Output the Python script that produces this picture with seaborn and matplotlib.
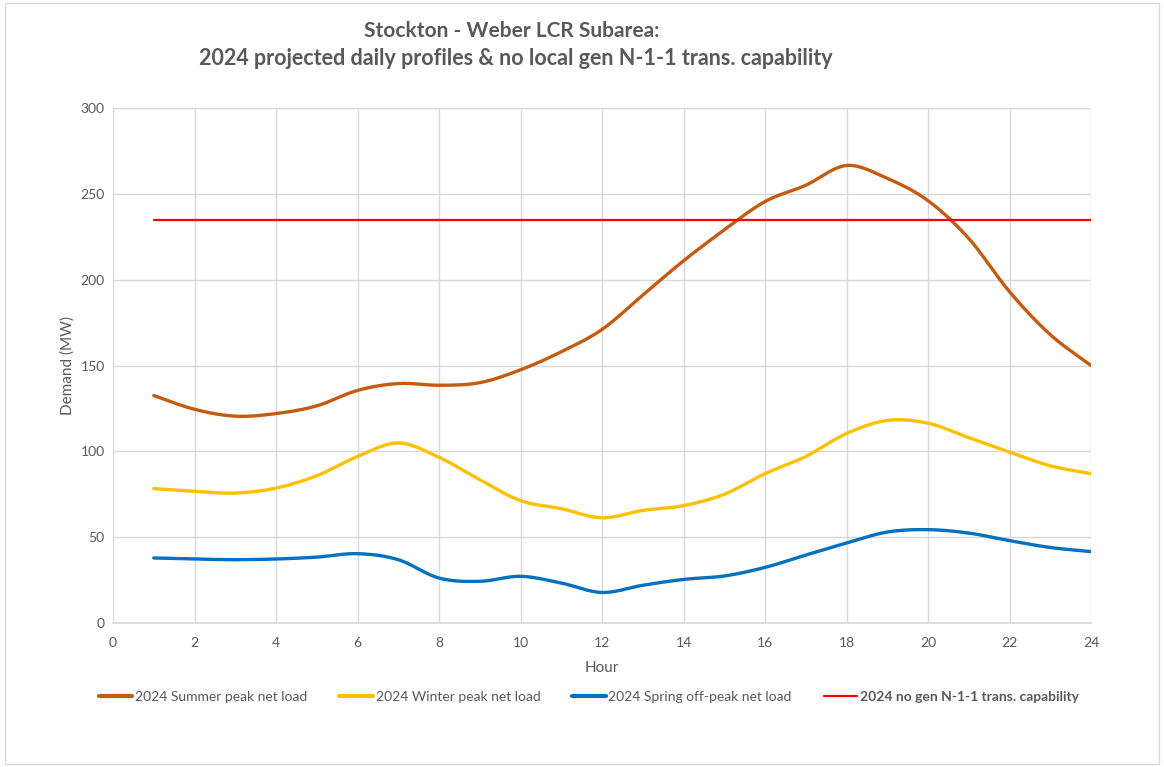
import numpy as np
import pandas as pd
import matplotlib
matplotlib.use("Agg")
import matplotlib.pyplot as plt
import seaborn as sns
from matplotlib.patches import Rectangle

# Data (MW by hour)
hours = list(range(1, 25))
summer = [132.5, 124.5, 120.5, 122, 126.5, 135.5, 139.5, 138.5, 140, 147.5, 158, 171,
          191, 211, 229, 245.5, 255, 266.5, 259, 246, 224, 193, 168, 150]
winter = [78.3, 76.7, 75.7, 78.6, 85.8, 97, 104.9, 96.5, 83.5, 71.3, 66.6, 61.3,
          65.6, 68.4, 75, 87, 97, 110.4, 118, 116.4, 108, 99.6, 91.6, 87]
spring = [37.9, 37.3, 36.9, 37.3, 38.4, 40.4, 36.9, 26.2, 24.3, 27.2, 23.3, 17.8,
          22, 25.4, 27.4, 32.4, 39.6, 46.6, 53, 54.4, 52.4, 48, 44, 41.6]
capability_hours = [1, 24]
capability = [235, 235]

series_names = ["2024 Summer peak net load", "2024 Winter peak net load",
                "2024 Spring off-peak net load", "2024 no gen N-1-1 trans. capability"]
colors = ["#C55A11", "#FFC000", "#0070C0", "#FF0000"]
gray = "#595959"


def smooth(x, y, n=16):
    # Catmull-Rom spline through the points, like Excel's smoothed line
    x = np.asarray(x, float)
    y = np.asarray(y, float)
    px = np.concatenate([[2 * x[0] - x[1]], x, [2 * x[-1] - x[-2]]])
    py = np.concatenate([[2 * y[0] - y[1]], y, [2 * y[-1] - y[-2]]])
    xs, ys = [], []
    t = np.linspace(0, 1, n, endpoint=False)
    for i in range(1, len(px) - 2):
        for p, out in ((px, xs), (py, ys)):
            p0, p1, p2, p3 = p[i - 1], p[i], p[i + 1], p[i + 2]
            out.extend(0.5 * ((2 * p1) + (-p0 + p2) * t
                              + (2 * p0 - 5 * p1 + 4 * p2 - p3) * t ** 2
                              + (-p0 + 3 * p1 - 3 * p2 + p3) * t ** 3))
    xs.append(x[-1])
    ys.append(y[-1])
    return np.array(xs), np.array(ys)


sns.set_theme(style="whitegrid")
plt.rcParams["font.family"] = ["Lato", "DejaVu Sans"]

fig = plt.figure(figsize=(11.64, 7.67), dpi=100)
ax = fig.add_axes([0.0971, 0.1877, 0.8402, 0.6715])

for name, vals, col in zip(series_names[:3], [summer, winter, spring], colors[:3]):
    sx, sy = smooth(hours, vals)
    df = pd.DataFrame({"Hour": sx, "MW": sy})
    sns.lineplot(data=df, x="Hour", y="MW", ax=ax, color=col, linewidth=2.4,
                 label=name, sort=False, estimator=None)

sns.lineplot(x=capability_hours, y=capability, ax=ax, color=colors[3],
             linewidth=1.6, label=series_names[3])

ax.set_xlim(0, 24)
ax.set_ylim(0, 300)
ax.set_xticks(range(0, 25, 2))
ax.set_yticks(range(0, 301, 50))
ax.grid(True, color="#D9D9D9", linewidth=1)
for s in ["top", "right", "left"]:
    ax.spines[s].set_visible(False)
ax.spines["bottom"].set_color("#D9D9D9")
ax.tick_params(axis="both", colors=gray, labelsize=10, length=0, pad=6)
ax.tick_params(axis="x", length=4, color="#D9D9D9", direction="out")
ax.set_xlabel("Hour", color=gray, fontsize=11, labelpad=9)
ax.set_ylabel("Demand (MW)", color=gray, fontsize=11, labelpad=4)

ax.get_legend().remove()
handles, labels = ax.get_legend_handles_labels()
leg = fig.legend(handles, labels, loc="center", bbox_to_anchor=(0.506, 0.091), ncol=4,
                 frameon=False, fontsize=10, handlelength=2.4, handletextpad=0.2,
                 columnspacing=2.3)
for h in leg.legend_handles[:3]:
    h.set_linewidth(3)
for t in leg.get_texts():
    t.set_color(gray)
leg.get_texts()[3].set_fontweight("bold")

fig.text(0.440, 0.960, "Stockton - Weber LCR Subarea:", ha="center", va="center",
         fontsize=15, fontweight="bold", color=gray)
fig.text(0.443, 0.924, "2024 projected daily profiles & no local gen N-1-1 trans. capability",
         ha="center", va="center", fontsize=15.5, fontweight="bold", color=gray)

fig.patches.append(Rectangle((0.004, 0.004), 0.992, 0.992, transform=fig.transFigure,
                             fill=False, edgecolor="#D9D9D9", linewidth=1))

fig.savefig("out.png", dpi=100)
